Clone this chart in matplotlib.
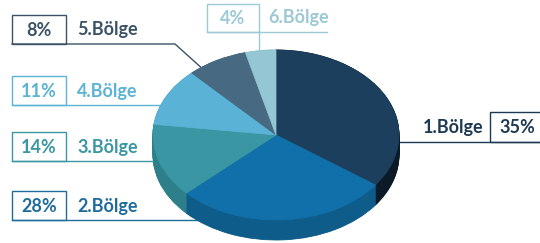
import numpy as np
import matplotlib
matplotlib.use('Agg')
import matplotlib.pyplot as plt
from matplotlib.patches import Rectangle

plt.rcParams['font.family'] = ['Lato', 'DejaVu Sans']

labels = ['1.Bölge', '2.Bölge', '3.Bölge', '4.Bölge', '5.Bölge', '6.Bölge']
values = [35, 28, 14, 11, 8, 4]
top_colors = ['#1b3f5c', '#1170aa', '#3a96a3', '#5ab3d6', '#476a82', '#94c6d4']
side_colors = ['#0b1a26', '#0e5c89', '#2d7f89', '#4a9cbd', '#3a586c', '#7fb0bd']
text_colors = ['#1e3a52', '#1f6c9c', '#3b97a3', '#5bb3d5', '#3b5366', '#9cc9d4']

W, H = 540, 243
fig = plt.figure(figsize=(W / 100, H / 100), dpi=100)

# pie geometry in pixels (image coords, y down)
cx, cy, rx, ry, depth = 276, 135, 123, 85, 20
d = depth / ry

# label layer (behind the pie so leader lines disappear under it)
lab = fig.add_axes([0, 0, 1, 1], zorder=0)
lab.set_xlim(0, W)
lab.set_ylim(H, 0)
lab.axis('off')

# pie layer
pie_ax = fig.add_axes([(cx - rx) / W, (H - (cy - ry) - ry * (2 + d)) / H,
                       2 * rx / W, ry * (2 + d) / H], zorder=1)
pie_ax.patch.set_visible(False)
for k in np.linspace(d, 0, 25):
    pie_ax.pie(values, colors=side_colors, startangle=90, counterclock=False,
               center=(0, -k), radius=1,
               wedgeprops=dict(linewidth=0.6, edgecolor=None))
    for w in pie_ax.patches[-len(values):]:
        w.set_edgecolor(w.get_facecolor())
pie_ax.pie(values, colors=top_colors, startangle=90, counterclock=False,
           radius=1, wedgeprops=dict(linewidth=0.5))
for w, c in zip(pie_ax.patches[-len(values):], top_colors):
    w.set_edgecolor(c)
pie_ax.set_aspect('auto')
pie_ax.set_xlim(-1, 1)
pie_ax.set_ylim(-1 - d, 1)
pie_ax.axis('off')

fs = 13


def left_label(i, y0, end):
    c = text_colors[i]
    lab.add_patch(Rectangle((12, y0), 54, 29, fill=False, edgecolor=c, lw=1))
    lab.plot([12] + [p[0] for p in end], [y0 + 29] + [p[1] for p in end],
             color=c, lw=1)
    lab.text(39, y0 + 15, f'{values[i]}%', color=c, fontsize=fs,
             fontweight='bold', ha='center', va='center')
    lab.text(77, y0 + 15, labels[i], color=c, fontsize=fs,
             fontweight='bold', ha='left', va='center')


left_label(4, 15, [(175, 44), (215, 80)])
left_label(3, 76, [(200, 105)])
left_label(2, 132, [(200, 161)])
left_label(1, 191, [(230, 220)])

# 6.Bölge on top
c = text_colors[5]
lab.add_patch(Rectangle((207, 4), 52, 28, fill=False, edgecolor=c, lw=1))
lab.plot([207, 327], [32, 32], color=c, lw=1)
lab.plot([259, 259], [32, 70], color=c, lw=1)
lab.text(233, 18, f'{values[5]}%', color=c, fontsize=fs, fontweight='bold',
         ha='center', va='center')
lab.text(268, 18, labels[5], color=c, fontsize=fs, fontweight='bold',
         ha='left', va='center')

# 1.Bölge on the right
c = text_colors[0]
lab.add_patch(Rectangle((490, 112), 60, 30, fill=False, edgecolor=c, lw=1,
                        clip_on=False))
lab.plot([380, 540], [142, 142], color=c, lw=1)
lab.text(517, 127, f'{values[0]}%', color=c, fontsize=fs, fontweight='bold',
         ha='center', va='center')
lab.text(483, 127, labels[0], color=c, fontsize=fs, fontweight='bold',
         ha='right', va='center')

fig.savefig('out.png', dpi=100)
